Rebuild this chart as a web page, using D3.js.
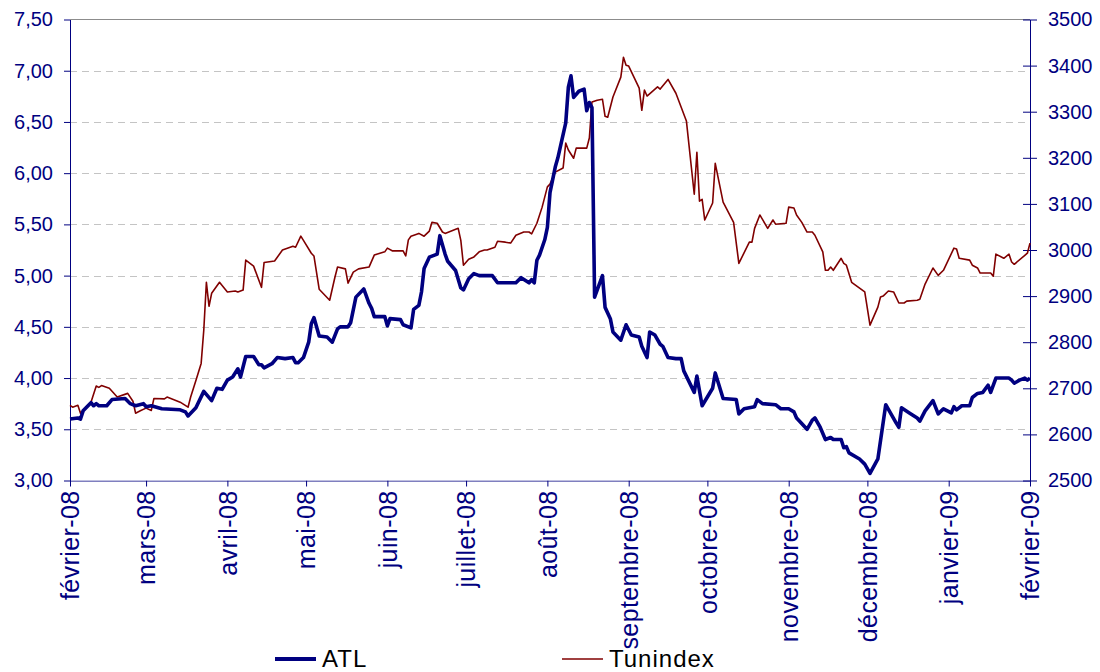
<!DOCTYPE html>
<html>
<head>
<meta charset="utf-8">
<script src="https://cdn.jsdelivr.net/npm/d3@7"></script>
<style>
  body { margin: 0; background: #fff; }
  svg { display: block; }
  text { font-family: "Liberation Sans", Arial, sans-serif; }
</style>
</head>
<body>
<div id="chart"></div>
<script>
var width = 1100,
    height = 672;

var monthNames = ["janvier", "février", "mars", "avril", "mai", "juin", "juillet",
                  "août", "septembre", "octobre", "novembre", "décembre"];
var leftTicks = [3, 3.5, 4, 4.5, 5, 5.5, 6, 6.5, 7, 7.5];
var rightTicks = [2500, 2600, 2700, 2800, 2900, 3000, 3100, 3200, 3300, 3400, 3500];
var seriesNames = ["ATL", "Tunindex"];

// cours ATL (axe gauche)
var atl = [
  ["2008-02-01", 3.60], ["2008-02-04", 3.61], ["2008-02-05", 3.60], ["2008-02-06", 3.68],
  ["2008-02-09", 3.76], ["2008-02-10", 3.73], ["2008-02-11", 3.75], ["2008-02-12", 3.73],
  ["2008-02-15", 3.73], ["2008-02-17", 3.79], ["2008-02-22", 3.80], ["2008-02-24", 3.75],
  ["2008-02-26", 3.73], ["2008-02-29", 3.75], ["2008-03-01", 3.72], ["2008-03-03", 3.73],
  ["2008-03-07", 3.70], ["2008-03-14", 3.69], ["2008-03-16", 3.67], ["2008-03-17", 3.63],
  ["2008-03-20", 3.71], ["2008-03-23", 3.87], ["2008-03-26", 3.78], ["2008-03-28", 3.90],
  ["2008-03-30", 3.89], ["2008-04-01", 3.98], ["2008-04-03", 4.01], ["2008-04-05", 4.09],
  ["2008-04-06", 4.01], ["2008-04-08", 4.21], ["2008-04-11", 4.21], ["2008-04-13", 4.13],
  ["2008-04-14", 4.13], ["2008-04-15", 4.10], ["2008-04-18", 4.14], ["2008-04-20", 4.20],
  ["2008-04-23", 4.19], ["2008-04-26", 4.20], ["2008-04-27", 4.15], ["2008-04-28", 4.15],
  ["2008-04-30", 4.20], ["2008-05-02", 4.35], ["2008-05-03", 4.53], ["2008-05-04", 4.59],
  ["2008-05-06", 4.41], ["2008-05-09", 4.40], ["2008-05-11", 4.35], ["2008-05-13", 4.48],
  ["2008-05-14", 4.50], ["2008-05-17", 4.50], ["2008-05-18", 4.54], ["2008-05-20", 4.79],
  ["2008-05-23", 4.87], ["2008-05-25", 4.73], ["2008-05-26", 4.68], ["2008-05-27", 4.60],
  ["2008-05-31", 4.60], ["2008-06-01", 4.51], ["2008-06-02", 4.58], ["2008-06-06", 4.57],
  ["2008-06-07", 4.52], ["2008-06-10", 4.49], ["2008-06-11", 4.67], ["2008-06-13", 4.71],
  ["2008-06-14", 4.84], ["2008-06-15", 5.07], ["2008-06-17", 5.18], ["2008-06-20", 5.21],
  ["2008-06-21", 5.39], ["2008-06-23", 5.21], ["2008-06-24", 5.14], ["2008-06-27", 5.05],
  ["2008-06-29", 4.88], ["2008-06-30", 4.86], ["2008-07-02", 4.97], ["2008-07-04", 5.02],
  ["2008-07-06", 5.00], ["2008-07-11", 5.00], ["2008-07-13", 4.93], ["2008-07-20", 4.93],
  ["2008-07-22", 4.98], ["2008-07-25", 4.93], ["2008-07-26", 4.96], ["2008-07-27", 4.93],
  ["2008-07-28", 5.15], ["2008-07-29", 5.20], ["2008-07-31", 5.35], ["2008-08-01", 5.47],
  ["2008-08-02", 5.81], ["2008-08-04", 6.06], ["2008-08-05", 6.15], ["2008-08-08", 6.49],
  ["2008-08-09", 6.84], ["2008-08-10", 6.95], ["2008-08-11", 6.74], ["2008-08-13", 6.80],
  ["2008-08-15", 6.82], ["2008-08-16", 6.61], ["2008-08-17", 6.69], ["2008-08-18", 6.64],
  ["2008-08-19", 4.79], ["2008-08-22", 5.00], ["2008-08-23", 4.69], ["2008-08-25", 4.58],
  ["2008-08-26", 4.45], ["2008-08-29", 4.37], ["2008-08-31", 4.52], ["2008-09-02", 4.42],
  ["2008-09-05", 4.40], ["2008-09-06", 4.31], ["2008-09-08", 4.20], ["2008-09-09", 4.45],
  ["2008-09-11", 4.42], ["2008-09-13", 4.33], ["2008-09-14", 4.31], ["2008-09-16", 4.20],
  ["2008-09-19", 4.19], ["2008-09-21", 4.19], ["2008-09-22", 4.07], ["2008-09-26", 3.86],
  ["2008-09-27", 4.02], ["2008-09-29", 3.73], ["2008-10-03", 3.90], ["2008-10-04", 4.05],
  ["2008-10-07", 3.80], ["2008-10-12", 3.79], ["2008-10-13", 3.65], ["2008-10-15", 3.70],
  ["2008-10-19", 3.72], ["2008-10-20", 3.79], ["2008-10-22", 3.75], ["2008-10-27", 3.74],
  ["2008-10-29", 3.70], ["2008-11-01", 3.70], ["2008-11-03", 3.67], ["2008-11-04", 3.61],
  ["2008-11-08", 3.50], ["2008-11-10", 3.59], ["2008-11-11", 3.61], ["2008-11-13", 3.52],
  ["2008-11-15", 3.40], ["2008-11-17", 3.42], ["2008-11-18", 3.40], ["2008-11-21", 3.40],
  ["2008-11-22", 3.32], ["2008-11-23", 3.33], ["2008-11-24", 3.27], ["2008-11-28", 3.21],
  ["2008-11-30", 3.16], ["2008-12-02", 3.07], ["2008-12-05", 3.21], ["2008-12-08", 3.74],
  ["2008-12-10", 3.65], ["2008-12-12", 3.56], ["2008-12-13", 3.52], ["2008-12-14", 3.71],
  ["2008-12-17", 3.66], ["2008-12-20", 3.61], ["2008-12-21", 3.58], ["2008-12-23", 3.68],
  ["2008-12-26", 3.78], ["2008-12-28", 3.65], ["2008-12-30", 3.70], ["2009-01-02", 3.66],
  ["2009-01-03", 3.72], ["2009-01-04", 3.69], ["2009-01-06", 3.73], ["2009-01-09", 3.73],
  ["2009-01-10", 3.81], ["2009-01-12", 3.85], ["2009-01-14", 3.86], ["2009-01-16", 3.93],
  ["2009-01-17", 3.86], ["2009-01-19", 4.00], ["2009-01-24", 4.00], ["2009-01-25", 3.98],
  ["2009-01-26", 3.95], ["2009-01-28", 3.98], ["2009-01-30", 4.00], ["2009-01-31", 3.98],
  ["2009-02-01", 4.00]
];

// indice Tunindex (axe droit)
var tunindex = [
  ["2008-02-01", 2663], ["2008-02-02", 2659], ["2008-02-04", 2663], ["2008-02-05", 2646],
  ["2008-02-07", 2657], ["2008-02-09", 2670], ["2008-02-11", 2705], ["2008-02-12", 2702],
  ["2008-02-13", 2706], ["2008-02-16", 2700], ["2008-02-19", 2681], ["2008-02-23", 2689],
  ["2008-02-25", 2672], ["2008-02-26", 2646], ["2008-02-28", 2652], ["2008-03-01", 2657],
  ["2008-03-03", 2652], ["2008-03-04", 2678], ["2008-03-08", 2677], ["2008-03-09", 2681],
  ["2008-03-14", 2670], ["2008-03-17", 2659], ["2008-03-18", 2681], ["2008-03-20", 2717],
  ["2008-03-22", 2754], ["2008-03-23", 2826], ["2008-03-24", 2930], ["2008-03-25", 2878],
  ["2008-03-26", 2906], ["2008-03-29", 2930], ["2008-04-01", 2909], ["2008-04-04", 2911],
  ["2008-04-05", 2909], ["2008-04-07", 2913], ["2008-04-08", 2978], ["2008-04-11", 2965],
  ["2008-04-14", 2919], ["2008-04-15", 2973], ["2008-04-19", 2976], ["2008-04-22", 3000],
  ["2008-04-26", 3008], ["2008-04-27", 3006], ["2008-04-29", 3030], ["2008-04-30", 3021],
  ["2008-05-03", 2993], ["2008-05-04", 2987], ["2008-05-06", 2915], ["2008-05-10", 2891],
  ["2008-05-12", 2941], ["2008-05-13", 2963], ["2008-05-16", 2959], ["2008-05-17", 2928],
  ["2008-05-19", 2952], ["2008-05-21", 2959], ["2008-05-25", 2963], ["2008-05-27", 2989],
  ["2008-05-31", 2996], ["2008-06-01", 3004], ["2008-06-03", 2998], ["2008-06-07", 2998],
  ["2008-06-08", 2987], ["2008-06-09", 3022], ["2008-06-10", 3030], ["2008-06-13", 3036],
  ["2008-06-15", 3030], ["2008-06-17", 3041], ["2008-06-18", 3060], ["2008-06-20", 3058],
  ["2008-06-22", 3039], ["2008-06-23", 3036], ["2008-06-28", 3047], ["2008-06-29", 3021],
  ["2008-06-30", 2967], ["2008-07-02", 2980], ["2008-07-04", 2985], ["2008-07-06", 2996],
  ["2008-07-08", 3000], ["2008-07-09", 3000], ["2008-07-12", 3006], ["2008-07-13", 3019],
  ["2008-07-16", 3017], ["2008-07-18", 3015], ["2008-07-20", 3032], ["2008-07-23", 3039],
  ["2008-07-25", 3039], ["2008-07-26", 3035], ["2008-07-28", 3058], ["2008-07-30", 3093],
  ["2008-08-01", 3137], ["2008-08-02", 3143], ["2008-08-04", 3169], ["2008-08-07", 3178],
  ["2008-08-08", 3232], ["2008-08-09", 3217], ["2008-08-11", 3199], ["2008-08-12", 3221],
  ["2008-08-16", 3221], ["2008-08-17", 3243], ["2008-08-18", 3321], ["2008-08-20", 3325],
  ["2008-08-22", 3327], ["2008-08-23", 3290], ["2008-08-24", 3288], ["2008-08-26", 3332],
  ["2008-08-29", 3375], ["2008-08-30", 3418], ["2008-08-31", 3401], ["2008-09-01", 3399],
  ["2008-09-05", 3351], ["2008-09-06", 3303], ["2008-09-07", 3347], ["2008-09-08", 3334],
  ["2008-09-12", 3354], ["2008-09-13", 3349], ["2008-09-16", 3370], ["2008-09-19", 3340],
  ["2008-09-23", 3280], ["2008-09-26", 3121], ["2008-09-27", 3212], ["2008-09-28", 3106],
  ["2008-09-29", 3110], ["2008-09-30", 3065], ["2008-10-03", 3102], ["2008-10-04", 3188],
  ["2008-10-07", 3104], ["2008-10-11", 3060], ["2008-10-13", 2971], ["2008-10-17", 3017],
  ["2008-10-18", 3017], ["2008-10-19", 3047], ["2008-10-21", 3076], ["2008-10-24", 3047],
  ["2008-10-26", 3065], ["2008-10-27", 3056], ["2008-10-31", 3058], ["2008-11-01", 3093],
  ["2008-11-03", 3091], ["2008-11-04", 3076], ["2008-11-06", 3060], ["2008-11-08", 3039],
  ["2008-11-10", 3039], ["2008-11-11", 3032], ["2008-11-14", 2996], ["2008-11-15", 2956],
  ["2008-11-16", 2956], ["2008-11-17", 2963], ["2008-11-18", 2956], ["2008-11-21", 2982],
  ["2008-11-22", 2971], ["2008-11-23", 2967], ["2008-11-25", 2930], ["2008-11-30", 2909],
  ["2008-12-02", 2837], ["2008-12-05", 2876], ["2008-12-06", 2898], ["2008-12-07", 2900],
  ["2008-12-09", 2911], ["2008-12-11", 2909], ["2008-12-13", 2885], ["2008-12-15", 2885],
  ["2008-12-16", 2889], ["2008-12-20", 2891], ["2008-12-21", 2893], ["2008-12-23", 2926],
  ["2008-12-26", 2961], ["2008-12-28", 2945], ["2008-12-30", 2956], ["2009-01-03", 3004],
  ["2009-01-04", 3002], ["2009-01-05", 2982], ["2009-01-09", 2978], ["2009-01-10", 2967],
  ["2009-01-12", 2961], ["2009-01-13", 2950], ["2009-01-17", 2950], ["2009-01-18", 2943],
  ["2009-01-19", 2991], ["2009-01-22", 2982], ["2009-01-24", 2991], ["2009-01-25", 2974],
  ["2009-01-26", 2969], ["2009-01-31", 2993], ["2009-02-01", 3015]
];

var parse = d3.timeParse("%Y-%m-%d");
var atlData = atl.map(function (d) { return {date: parse(d[0]), value: d[1]}; });
var tunData = tunindex.map(function (d) { return {date: parse(d[0]), value: d[1]}; });

var plotLeft = 70, plotRight = 1030, plotTop = 19.5, plotBottom = 480.5;

var svg = d3.select("#chart").append("svg")
    .attr("width", width)
    .attr("height", height);

var x = d3.scaleTime()
    .domain([parse("2008-02-01"), parse("2009-02-01")])
    .range([plotLeft, plotRight]);
var yL = d3.scaleLinear().domain([3, 7.5]).range([plotBottom, plotTop]);
var yR = d3.scaleLinear().domain([2500, 3500]).range([plotBottom, plotTop]);

var navy = "#000080", maroon = "#800000";

// grille
svg.append("g").selectAll("line")
    .data(leftTicks.slice(1, -1))
    .enter().append("line")
    .attr("x1", plotLeft).attr("x2", plotRight)
    .attr("y1", function (d) { return Math.round(yL(d)) + 0.5; })
    .attr("y2", function (d) { return Math.round(yL(d)) + 0.5; })
    .attr("stroke", "#c4c4c4")
    .attr("stroke-dasharray", "7,5");

// cadre haut
svg.append("line")
    .attr("x1", plotLeft).attr("x2", plotRight)
    .attr("y1", yL(7.5)).attr("y2", yL(7.5))
    .attr("stroke", "#8c8c8c").attr("stroke-width", 1.2);

var fmt = function (d) { return d3.format(".2f")(d).replace(".", ","); };

var axL = svg.append("g")
    .attr("transform", "translate(" + plotLeft + ",0)")
    .call(d3.axisLeft(yL).tickValues(leftTicks).tickFormat(fmt).tickSize(6).tickSizeOuter(0));
var axR = svg.append("g")
    .attr("transform", "translate(" + plotRight + ",0)")
    .call(d3.axisRight(yR).tickValues(rightTicks).tickFormat(d3.format("d"))
        .tickSize(7).tickSizeOuter(0));
axR.selectAll(".tick line").attr("x1", -7);

var axB = svg.append("g")
    .attr("transform", "translate(0," + plotBottom + ")")
    .call(d3.axisBottom(x).ticks(d3.timeMonth.every(1)).tickSize(6).tickSizeOuter(0)
        .tickFormat(function (d) {
            return monthNames[d.getMonth()] + "-" + d3.timeFormat("%y")(d);
        }));

[axL, axR, axB].forEach(function (g) {
    g.select(".domain").attr("stroke", navy);
    g.selectAll(".tick line").attr("stroke", navy);
    g.selectAll(".tick text").attr("fill", navy).style("font-family", "'Liberation Sans', Arial, sans-serif");
});
axL.selectAll(".tick text").attr("font-size", 20).attr("x", -17);
axR.selectAll(".tick text").attr("font-size", 20).attr("x", 18);

svg.append("clipPath").attr("id", "lab")
    .append("rect").attr("x", 0).attr("y", 0).attr("width", width).attr("height", 168);
axB.selectAll(".tick text")
    .attr("font-size", 25)
    .attr("transform", "rotate(-90)")
    .attr("text-anchor", "end")
    .attr("x", -10).attr("y", 0).attr("dy", "0.35em")
    .attr("letter-spacing", 0.4);
axB.attr("clip-path", "url(#lab)");

// courbes
var lineL = d3.line().x(function (d) { return x(d.date); }).y(function (d) { return yL(d.value); });
var lineR = d3.line().x(function (d) { return x(d.date); }).y(function (d) { return yR(d.value); });

svg.append("path").datum(tunData)
    .attr("d", lineR).attr("fill", "none")
    .attr("stroke", maroon).attr("stroke-width", 1.6).attr("stroke-linejoin", "round");
svg.append("path").datum(atlData)
    .attr("d", lineL).attr("fill", "none")
    .attr("stroke", navy).attr("stroke-width", 3.6).attr("stroke-linejoin", "round");

// légende
var legend = svg.append("g");
var legItems = [
    {name: seriesNames[0], color: navy, w: 4, x: 275},
    {name: seriesNames[1], color: maroon, w: 1.6, x: 562}
];
legItems.forEach(function (d) {
    legend.append("line")
        .attr("x1", d.x).attr("x2", d.x + 41)
        .attr("y1", 659).attr("y2", 659)
        .attr("stroke", d.color).attr("stroke-width", d.w);
    legend.append("text")
        .attr("x", d.x + 47).attr("y", 667)
        .attr("font-size", 24)
        .attr("fill", "#000")
        .attr("letter-spacing", 1)
        .text(d.name);
});
</script>
</body>
</html>
